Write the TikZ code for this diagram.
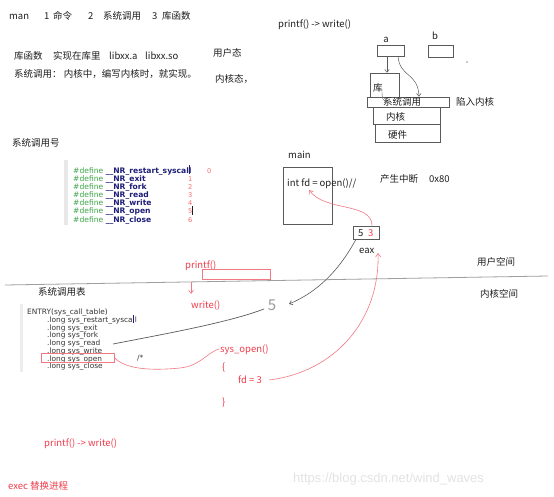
\documentclass[tikz,border=0pt]{standalone}
\usepackage{fontspec}
\setmainfont{Noto Sans CJK SC}
\newfontfamily\codefont{DejaVu Sans}
\newfontfamily\wmfont{Liberation Sans}
\usetikzlibrary{arrows.meta}
\definecolor{txtc}{RGB}{30,30,30}
\definecolor{redt}{RGB}{240,60,75}
\definecolor{redl}{RGB}{242,120,130}
\definecolor{codeg}{RGB}{60,165,70}
\definecolor{coden}{RGB}{30,30,120}
\definecolor{numr}{RGB}{245,110,110}
\definecolor{linec}{RGB}{90,90,90}
\tikzset{
  txt/.style={anchor=west,inner sep=0pt,text=txtc,text height=.8em,text depth=.1em,font=\fontsize{9.5}{11}\selectfont},
  rtxt/.style={txt,text=redt},
  bx/.style={draw=linec,line width=0.6pt,inner sep=0pt},
  rbx/.style={draw=redl,line width=0.6pt,inner sep=0pt},
  cde/.style={anchor=west,inner sep=0pt,text height=.8em,text depth=.1em,font=\codefont\fontsize{7.6}{8}\selectfont},
  cdt/.style={cde,text=txtc!90,font=\codefont\fontsize{7.4}{8}\selectfont},
  num/.style={cde,text=numr,font=\codefont\fontsize{6.6}{8}\selectfont},
  garr/.style={draw=linec,line width=0.5pt,-{Straight Barb[length=3pt,width=4.5pt]}},
  gline/.style={draw=linec,line width=0.7pt},
  rline/.style={draw=redl,line width=0.6pt},
  rarr/.style={draw=redl,line width=0.6pt,-{Straight Barb[length=3.5pt,width=5pt]}}
}
\begin{document}
\begin{tikzpicture}[x=1pt,y=-1pt]
\useasboundingbox[fill=white] (0,0) rectangle (554,497);

% ---- top-left notes
\node[txt] (man) at (9,16) {man};
\node[txt] (n1) at (44,16) {1};
\node[txt] (cmd) at (53,16) {命令};
\node[txt] (n2) at (88,16) {2};
\node[txt] (scall) at (103,16) {系统调用};
\node[txt] (n3) at (152,16) {3};
\node[txt] (libf) at (162,16) {库函数};

\node[txt] (libf2) at (14,56) {库函数};
\node[txt] (impl) at (53,56) {实现在库里};
\node[txt] (liba) at (109,56) {libxx.a};
\node[txt] (libso) at (145,56) {libxx.so};
\node[txt] (scdesc) at (14,74) {系统调用： 内核中，编写内核时，就实现。};
\node[txt] (user) at (213,53) {用户态};
\node[txt] (kern) at (215,79) {内核态，};

% ---- top-right layered diagram
\node[txt] (pw) at (278,24) {printf() -> write()};
\node[inner sep=0pt,text=txtc,font=\fontsize{9.5}{11}\selectfont] (la) at (386,40) {a};
\node[inner sep=0pt,text=txtc,font=\fontsize{9.5}{11}\selectfont] (lb) at (435,36) {b};
\node[bx,minimum width=27pt,minimum height=11pt] (boxa) at (390.5,50.5) {};
\node[bx,minimum width=25pt,minimum height=12pt] (boxb) at (440.5,51) {};
\fill[txtc] (467,62) circle (0.7pt);
\node[bx,minimum width=29pt,minimum height=24pt] (kubox) at (384.5,85) {};
\node[txt] (ku) at (373,88) {库};
\node[bx,minimum width=82pt,minimum height=10pt] (sysbox) at (408,102) {};
\node[txt] (systxt) at (383,102) {系统调用};
\node[txt] (trap) at (456,102) {陷入内核};
\node[bx,minimum width=67pt,minimum height=17pt] (nhbox) at (406.5,115.5) {};
\node[txt] (nh) at (386,117) {内核};
\node[bx,minimum width=65pt,minimum height=18pt] (hwbox) at (407.5,133) {};
\node[txt] (hw) at (388,135) {硬件};
\draw[garr] ([xshift=-3.5pt]boxa.south) -- ([xshift=2.5pt]kubox.north);
\draw[garr] ([xshift=7.5pt]boxa.south) .. controls (400,78) and (418,72) .. ([xshift=11pt]sysbox.north);
\draw[gline,line width=0.4pt] (382,89) .. controls (382,100) .. (389,103);

% ---- syscall numbers
\node[txt] (scnum) at (12,143) {系统调用号};
\fill[gray!18] (64,160) rectangle (68,225);
\foreach \nm/\k in {restart\_syscall/0,exit/1,fork/2,read/3,write/4,open/5,close/6}{
  \node[cde] (def\k) at (73,170+8.1*\k) {{\color{codeg}\#define} {\color{coden}\bfseries \_\_NR\_\nm}};
}
\node[num] (num0) at (207,170) {0};
\foreach \k in {1,...,6}{
  \node[num] (num\k) at (188,170+8.1*\k) {\k};
}
\draw[coden,line width=0.9pt] (189.5,165.5) -- (189.5,174.5);
\draw[txtc,line width=0.8pt] (192.5,206.5) -- (192.5,215.5);

% ---- main / eax
\node[txt] (mainl) at (288,155) {main};
\node[bx,minimum width=49pt,minimum height=57pt] (mainbox) at (307.5,195.5) {};
\node[txt] (intfd) at (287,183) {int fd = open()//};
\node[txt] (intr) at (380,179) {产生中断};
\node[txt] (hex) at (429,179) {0x80};
\node[bx,minimum width=26pt,minimum height=13pt] (box53) at (366,232.5) {};
\node[txt] (five) at (358,233) {5};
\node[rtxt] (three) at (368,233) {3};
\node[txt] (eax) at (359,250) {eax};
\coordinate (fdtip) at (309,190);
\draw[rarr] ([xshift=6pt]box53.north) .. controls (372,202) and (325,212) .. (fdtip);

% ---- user/kernel divide
\coordinate (L1) at (5,285);
\coordinate (L2) at (548,276);
\draw[draw=gray!75,line width=0.8pt] (L1) -- (L2);
\node[txt] (uspace) at (477,262) {用户空间};
\node[txt] (kspace) at (480,294) {内核空间};

% ---- printf / write
\node[rtxt] (rprintf) at (185,265) {printf()};
\node[rbx,minimum width=68pt,minimum height=10pt] (prect) at (236,274) {};
\coordinate (pa1) at (191,282);
\coordinate (pa2) at (191,294);
\draw[rarr] (pa1) -- (pa2);
\node[rtxt] (rwrite) at (191,305) {write()};

% ---- syscall table
\node[txt] (sctab) at (38,292) {系统调用表};
\fill[gray!14] (20,304) rectangle (23,372);
\node[cdt] (entry) at (27,311) {ENTRY(sys\_call\_table)};
\foreach \nm/\k in {restart\_syscall/0,exit/1,fork/2,read/3,write/4,open/5,close/6}{
  \node[cdt] (lg\k) at (47,319+7.7*\k) {.long sys\_\nm};
}
\draw[coden,line width=0.9pt] (133.5,315) -- (133.5,323);
\node[rbx,minimum width=73pt,minimum height=9pt] (sorect) at (77.5,357.5) {};
\node[cdt] (cmt) at (137,357) {/*};

% ---- the "5" hand-written and arrows
\node[inner sep=0pt,text=gray!80,font=\fontsize{15}{16}\selectfont] (big5) at (272,305) {5};
\coordinate (rdend) at (113,344);
\coordinate (fiveL) at (264,309);
\draw[gline] (rdend) .. controls (170,333) and (230,322) .. (fiveL);
\coordinate (arr5) at (289,304);
\draw[garr,line width=0.6pt] ([xshift=-10pt]box53.south) .. controls (342,265) and (322,290) .. (arr5);

% ---- sys_open body
\node[rtxt] (sysopen) at (220,349) {sys\_open()};
\node[rtxt] (lbr) at (222,367) {\{};
\node[rtxt] (fd3) at (238,380) {fd = 3};
\node[rtxt] (rbr) at (222,402) {\}};
\draw[rline] (sorect.east) .. controls (125,369) and (150,371) .. (180,368) .. controls (200,366) and (208,352) .. ([xshift=-1pt]sysopen.west);
\coordinate (eaxr) at (378,253);
\draw[rarr] ([xshift=7pt]fd3.east) .. controls (335,372) and (380,320) .. (eaxr);

% ---- bottom
\node[rtxt] (pw2) at (44,443) {printf() -> write()};
\node[rtxt] (exec) at (8,486) {exec 替换进程};
\node[anchor=west,inner sep=0pt,text=gray!22,font=\wmfont\fontsize{13}{14}\selectfont] (wm) at (293,479) {https://blog.csdn.net/wind\_waves};
\end{tikzpicture}
\end{document}
